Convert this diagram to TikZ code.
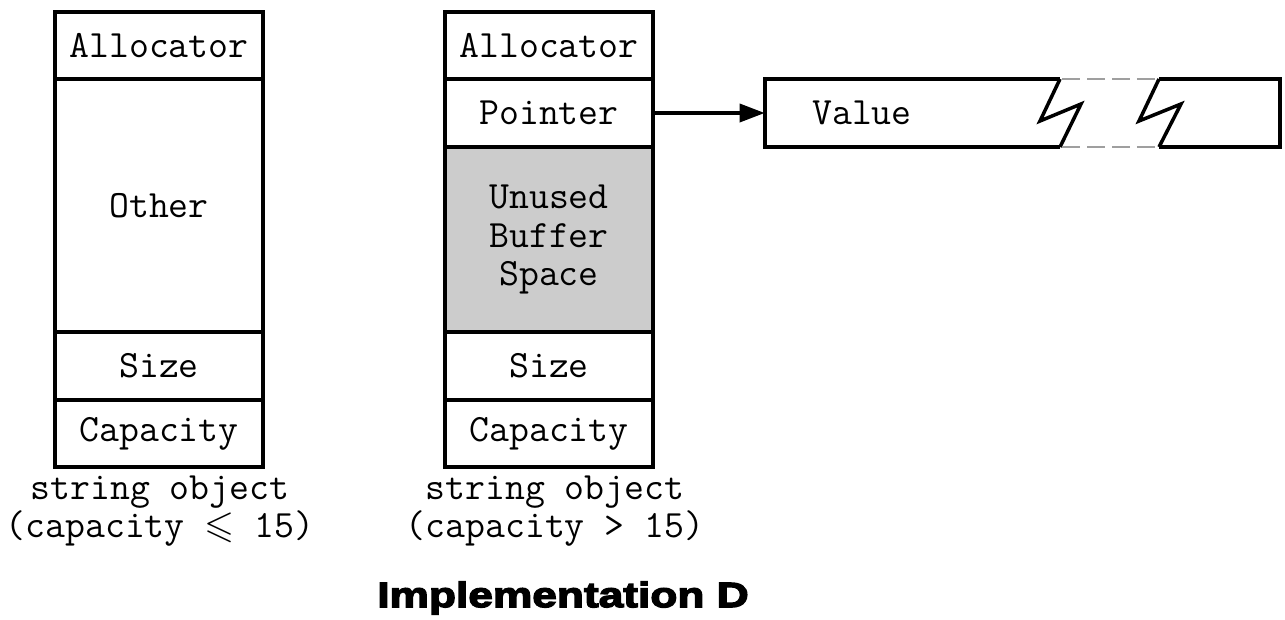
\documentclass[tikz,border=0pt]{standalone}
\usepackage{amssymb}
\usepackage{fontspec}
\usetikzlibrary{arrows.meta}
\newfontfamily\titlefont{Liberation Sans Bold}[FakeBold=4,FakeStretch=1.26]
\begin{document}
\begin{tikzpicture}[x=0.02cm,y=-0.02cm,
  cell/.style={draw,line width=2pt,inner sep=0pt,minimum width=4.16cm,
    font=\ttfamily\fontsize{22}{23}\selectfont,align=center},
  captext/.style={font=\ttfamily\fontsize{22}{19.5}\selectfont,align=center,inner sep=0pt},
  brk/.style={line width=2pt,line join=miter},
  gapline/.style={line width=1.4pt,gray!75,dash pattern=on 0.36cm off 0.14cm}]
\useasboundingbox (0,0) rectangle (1285,619);

% small string: buffer holds the characters in place
\node[cell,minimum height=1.34cm] (la) at (159,45.5) {Allocator};
\node[cell,minimum height=5.06cm] (lo) at (159,205.5) {Other};
\node[cell,minimum height=1.36cm] (ls) at (159,366) {Size};
\node[cell,minimum height=1.34cm] (lc) at (159,433.5) {Capacity};
\node[captext] (lcap) at (160,511) {string object\\(capacity $\leqslant$ 15)};

% large string: buffer points to heap storage
\node[cell,minimum height=1.34cm] (ra) at (549,45.5) {Allocator};
\node[cell,minimum height=1.36cm] (rp) at (549,113) {Pointer};
\node[cell,minimum height=3.7cm,fill={rgb,255:red,204;green,204;blue,204}] (ru) at (549,239.5) {Unused\\[-1pt]Buffer\\[-1pt]Space};
\node[cell,minimum height=1.36cm] (rs) at (549,366) {Size};
\node[cell,minimum height=1.34cm] (rc) at (549,433.5) {Capacity};
\node[captext] (rcap) at (555,511) {string object\\(capacity > 15)};

% heap value block, drawn broken in the middle
\node[inner sep=0pt,minimum width=10.3cm,minimum height=1.36cm] (val) at (1022.5,113) {};
\node[font=\ttfamily\fontsize{22}{23}\selectfont] (valtxt) at (862,113) {Value};
\draw[brk] (1060,79) -- (765,79) -- (765,147) -- (1060,147);
\draw[brk] (1060,79) -- (1040,121) -- (1081,104) -- (1060,147);
\draw[brk] (1159,79) -- (1280,79) -- (1280,147) -- (1159,147);
\draw[brk] (1159,79) -- (1139,121) -- (1181,104) -- (1159,147);
\draw[gapline] (1062,79) -- (1157,79);
\draw[gapline] (1062,147) -- (1157,147);

\draw[line width=2pt,-{Triangle[length=0.5cm,width=0.36cm]}] (rp.east) -- (val.west);

\node[font=\titlefont\fontsize{20}{22}\selectfont] (title) at (563,598) {Implementation D};
\end{tikzpicture}
\end{document}
